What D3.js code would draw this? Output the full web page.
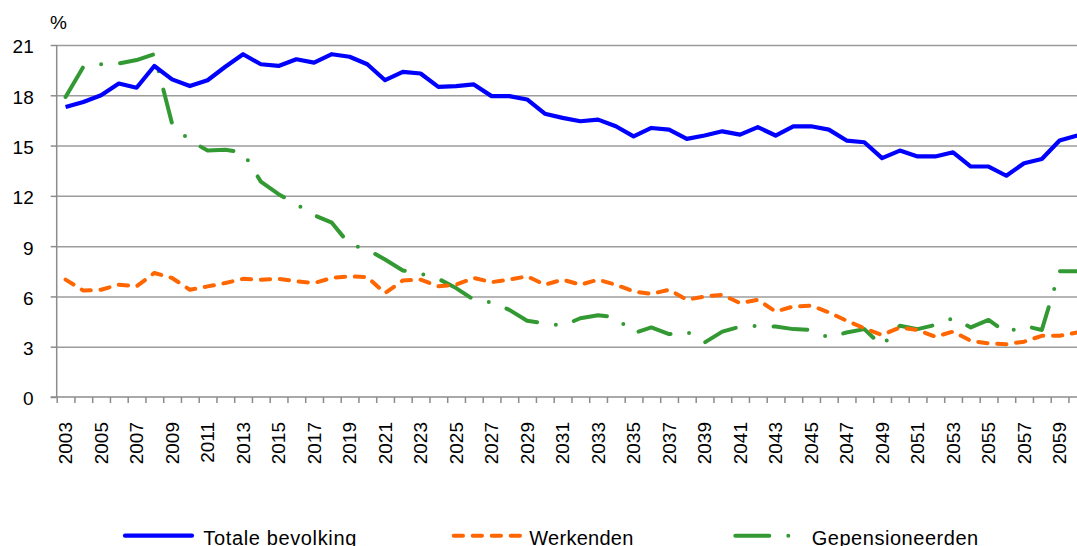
<!DOCTYPE html>
<html>
<head>
<meta charset="utf-8">
<script src="https://cdn.jsdelivr.net/npm/d3@7/dist/d3.min.js"></script>
<style>
  html, body { margin: 0; padding: 0; background: #ffffff; }
  svg { display: block; font-family: "Liberation Sans", Arial, sans-serif; }
</style>
</head>
<body>
<svg id="chart" width="1077" height="546"></svg>
<script>
const years = d3.range(2003, 2061);
const yTicks = [0, 3, 6, 9, 12, 15, 18, 21];
const xLabelYears = d3.range(2003, 2061, 2);

const totaleBevolking = [
  17.3, 17.6, 18.0, 18.7, 18.45, 19.75, 18.95, 18.55, 18.9, 19.7,
  20.45, 19.85, 19.75, 20.15, 19.95, 20.45, 20.3, 19.85, 18.9, 19.4,
  19.3, 18.5, 18.55, 18.65, 17.95, 17.95, 17.75, 16.9, 16.65, 16.45,
  16.55, 16.15, 15.55, 16.05, 15.95, 15.4, 15.6, 15.85, 15.65, 16.1,
  15.6, 16.15, 16.15, 15.95, 15.3, 15.2, 14.25, 14.7, 14.35, 14.35,
  14.6, 13.75, 13.75, 13.2, 13.95, 14.2, 15.3, 15.6
];
const werkenden = [
  7.0, 6.35, 6.4, 6.7, 6.6, 7.4, 7.1, 6.4, 6.6, 6.8,
  7.05, 7.0, 7.05, 6.9, 6.8, 7.1, 7.2, 7.15, 6.2, 6.95,
  7.0, 6.6, 6.7, 7.1, 6.85, 7.0, 7.2, 6.7, 7.0, 6.7,
  7.0, 6.7, 6.3, 6.15, 6.4, 5.8, 6.0, 6.1, 5.6, 5.8,
  5.1, 5.4, 5.45, 5.05, 4.55, 4.1, 3.7, 4.15, 4.0, 3.6,
  3.9, 3.35, 3.2, 3.15, 3.3, 3.65, 3.65, 3.85
];
const gepensioneerden = [
  17.9, 19.7, 19.85, 19.9, 20.1, 20.45, 16.3, 15.3, 14.7, 14.75,
  14.6, 12.85, 12.1, 11.5, 10.85, 10.4, 9.1, 8.8, 8.2, 7.55,
  7.35, 7.05, 6.5, 5.8, 5.65, 5.2, 4.55, 4.4, 4.25, 4.7,
  4.88, 4.75, 3.8, 4.15, 3.75, 3.9, 3.25, 3.9, 4.2, 4.25,
  4.2, 4.05, 4.0, 3.55, 3.85, 4.05, 3.05, 4.25, 4.05, 4.3,
  4.7, 4.15, 4.6, 3.85, 4.25, 4.0, 7.5, 7.5
];
const seriesNames = ["Totale bevolking", "Werkenden", "Gepensioneerden"];

const svg = d3.select("#chart");
const plotLeft = 56.7, plotRight = 1086.2, plotTop = 45, plotBottom = 397;

const x = d3.scaleBand().domain(years).range([plotLeft, plotRight]).padding(0);
const xb = d3.scaleLinear().domain([0, years.length]).range([plotLeft, plotRight]);
const y = d3.scaleLinear().domain([0, 21]).range([plotBottom, plotTop]);
const cx = d => x(d) + x.bandwidth() / 2;

// gridlines
const grid = svg.append("g").attr("transform", `translate(${plotLeft},0)`)
  .call(d3.axisLeft(y).tickValues(yTicks.filter(v => v > 0)).tickSize(-(1077 - plotLeft)).tickFormat(""));
grid.select(".domain").remove();
grid.selectAll("line").attr("stroke", "#9c9c9c").attr("stroke-width", 1.5);

// y axis
const yAx = svg.append("g").attr("transform", `translate(${plotLeft},0)`)
  .call(d3.axisLeft(y).tickValues(yTicks).tickSize(6).tickPadding(17));
yAx.select(".domain").attr("stroke", "#8c8c8c").attr("stroke-width", 1.5).attr("d", `M0,${plotTop}V${plotBottom}`);
yAx.selectAll("line").attr("stroke", "#8c8c8c").attr("stroke-width", 1.5);
yAx.selectAll("text").attr("font-size", 19).attr("fill", "#000").attr("dy", "0.42em")
  .attr("font-family", "'Liberation Sans', Arial, sans-serif");

// x axis ticks at category boundaries
const xAx = svg.append("g").attr("transform", `translate(0,${plotBottom})`)
  .call(d3.axisBottom(xb).tickValues(d3.range(0, years.length + 1)).tickSize(6).tickFormat(""));
xAx.select(".domain").attr("stroke", "#8c8c8c").attr("stroke-width", 1.5).attr("d", `M${plotLeft - 6},0H${plotRight}`);
xAx.selectAll("line").attr("stroke", "#8c8c8c").attr("stroke-width", 1.5);

// x labels
const xLab = svg.append("g").attr("transform", `translate(0,${plotBottom})`)
  .call(d3.axisBottom(x).tickValues(xLabelYears).tickSize(0).tickFormat(d3.format("d")));
xLab.select(".domain").remove();
xLab.selectAll("text")
  .attr("font-size", 19).attr("fill", "#000")
  .attr("font-family", "'Liberation Sans', Arial, sans-serif")
  .attr("text-anchor", "end")
  .attr("transform", "rotate(-90)")
  .attr("x", -25).attr("y", 0).attr("dy", "0.36em");

// % label
svg.append("text").attr("x", 50).attr("y", 29).attr("font-size", 19).text("%");

// lines
const line = d3.line().x((d, i) => cx(years[i])).y(d => y(d));
svg.append("path").datum(gepensioneerden).attr("d", line)
  .attr("fill", "none").attr("stroke", "#339933").attr("stroke-width", 4)
  .attr("stroke-linecap", "round").attr("stroke-linejoin", "round")
  .attr("stroke-dasharray", "34,19,0,19");
svg.append("path").datum(werkenden).attr("d", line)
  .attr("fill", "none").attr("stroke", "#ff6600").attr("stroke-width", 4)
  .attr("stroke-linecap", "round").attr("stroke-linejoin", "round")
  .attr("stroke-dasharray", "9.3,9.7");
svg.append("path").datum(totaleBevolking).attr("d", line)
  .attr("fill", "none").attr("stroke", "#0000ff").attr("stroke-width", 4.2)
  .attr("stroke-linejoin", "round");

// legend
const ly = 535.7;
const leg = svg.append("g");
leg.append("line").attr("x1", 125).attr("x2", 192).attr("y1", ly).attr("y2", ly)
  .attr("stroke", "#0000ff").attr("stroke-width", 4.2).attr("stroke-linecap", "round");
leg.append("line").attr("x1", 453.7).attr("x2", 520.7).attr("y1", ly).attr("y2", ly)
  .attr("stroke", "#ff6600").attr("stroke-width", 4).attr("stroke-linecap", "round")
  .attr("stroke-dasharray", "9.3,9.7");
leg.append("line").attr("x1", 735.3).attr("x2", 800).attr("y1", ly).attr("y2", ly)
  .attr("stroke", "#339933").attr("stroke-width", 4).attr("stroke-linecap", "round")
  .attr("stroke-dasharray", "34,19,0,19");
const legText = [
  {t: seriesNames[0], x: 203.3, w: 153},
  {t: seriesNames[1], x: 529.3, w: 104},
  {t: seriesNames[2], x: 811.7, w: 166.5}
];
leg.selectAll("text.lt").data(legText).enter().append("text")
  .attr("class", "lt")
  .attr("x", d => d.x).attr("y", 544.5)
  .attr("font-size", 20).attr("fill", "#000")
  .attr("textLength", d => d.w).attr("lengthAdjust", "spacing")
  .text(d => d.t);
</script>
</body>
</html>
